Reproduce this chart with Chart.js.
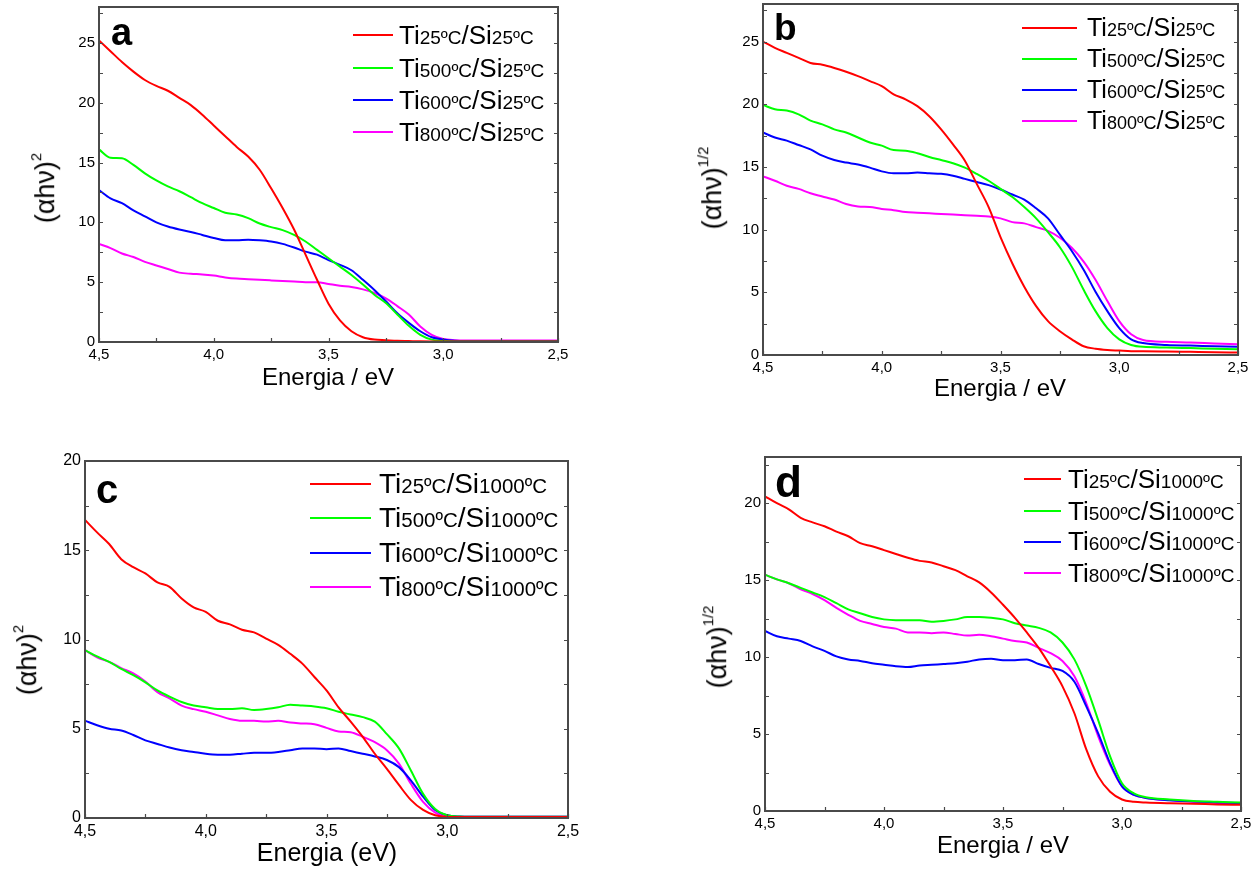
<!DOCTYPE html>
<html>
<head>
<meta charset="utf-8">
<title>Tauc plots</title>
<script src="https://cdn.jsdelivr.net/npm/chart.js@4.4.1/dist/chart.umd.min.js"></script>
<style>
  html, body { margin: 0; padding: 0; background: #fff; }
  body { width: 1257px; height: 869px; position: relative; overflow: hidden;
         font-family: "Liberation Sans", Arial, sans-serif; color: #000; }
  canvas { position: absolute; }
  .lbl { position: absolute; line-height: 1; white-space: nowrap; }
  .letter { font-weight: bold; }
  .ytitle { position: absolute; white-space: nowrap; line-height: 1;
            transform: translate(-50%, -50%) rotate(-90deg); }
  .ytitle sup { font-size: 0.55em; vertical-align: 0.85em; }
  .xtitle { transform: translateX(-50%); }
  .leg-line { position: absolute; height: 2px; }
</style>
</head>
<body>
<script>
(function() {
    'use strict';

    const FONT = '"Liberation Sans", Arial, sans-serif';

    // photon energy (eV), shared by all four panels
    const energy = [4.5, 4.45, 4.4, 4.35, 4.3, 4.25, 4.2, 4.15, 4.1, 4.05,
                    4.0, 3.95, 3.9, 3.85, 3.8, 3.75, 3.7, 3.65, 3.6, 3.55,
                    3.5, 3.45, 3.4, 3.35, 3.3, 3.25, 3.2, 3.15, 3.1, 3.05,
                    3.0, 2.95, 2.9, 2.8, 2.7, 2.6, 2.5];
    const xTicks = [4.5, 4.0, 3.5, 3.0, 2.5];
    const tiTemps = ['25ºC', '500ºC', '600ºC', '800ºC'];
    const colors = ['#ff0000', '#00ff00', '#0000ff', '#ff00ff'];

    // a: (αhν)^2, Si 25ºC
    const aTi25 = [25.2, 24.3, 23.4, 22.6, 21.9, 21.4, 21.0, 20.4, 19.8, 19.0,
                   18.1, 17.2, 16.3, 15.5, 14.4, 12.85, 11.2, 9.4, 7.3, 5.2,
                   3.2, 1.8, 0.9, 0.4, 0.2, 0.15, 0.1, 0.08, 0.06, 0.05,
                   0.05, 0.05, 0.05, 0.05, 0.05, 0.05, 0.05];
    const aTi500 = [16.1, 15.4, 15.35, 14.8, 14.1, 13.5, 13.0, 12.6, 12.1, 11.6,
                    11.2, 10.8, 10.65, 10.35, 9.9, 9.6, 9.35, 8.95, 8.4, 7.7,
                    7.0, 6.3, 5.6, 4.8, 3.95, 3.25, 2.3, 1.35, 0.6, 0.2,
                    0.08, 0.05, 0.05, 0.05, 0.05, 0.05, 0.05];
    const aTi600 = [12.7, 12.0, 11.6, 11.0, 10.5, 10.0, 9.65, 9.4, 9.2, 8.95,
                    8.7, 8.5, 8.5, 8.55, 8.5, 8.4, 8.2, 7.9, 7.55, 7.3,
                    6.85, 6.45, 6.0, 5.2, 4.35, 3.4, 2.4, 1.6, 0.9, 0.4,
                    0.2, 0.1, 0.08, 0.08, 0.08, 0.08, 0.08];
    const aTi800 = [8.2, 7.85, 7.4, 7.1, 6.7, 6.4, 6.1, 5.8, 5.7, 5.65,
                    5.55, 5.4, 5.3, 5.25, 5.2, 5.15, 5.1, 5.05, 5.0, 5.0,
                    4.85, 4.7, 4.6, 4.4, 4.1, 3.65, 3.0, 2.3, 1.3, 0.6,
                    0.25, 0.15, 0.12, 0.12, 0.12, 0.12, 0.12];

    // b: (αhν)^1/2, Si 25ºC
    const bTi25 = [25.0, 24.5, 24.1, 23.7, 23.3, 23.15, 22.9, 22.6, 22.25, 21.85,
                   21.45, 20.8, 20.4, 19.85, 19.05, 18.0, 16.8, 15.5, 13.65, 11.8,
                   9.4, 7.3, 5.45, 3.9, 2.7, 1.9, 1.25, 0.7, 0.5, 0.4,
                   0.35, 0.3, 0.3, 0.28, 0.25, 0.22, 0.2];
    const bTi500 = [19.95, 19.6, 19.5, 19.2, 18.7, 18.4, 18.0, 17.75, 17.35, 16.95,
                    16.7, 16.35, 16.3, 16.1, 15.8, 15.55, 15.3, 14.95, 14.45, 13.9,
                    13.25, 12.6, 11.8, 10.9, 9.8, 8.6, 7.05, 5.2, 3.5, 2.15,
                    1.25, 0.8, 0.65, 0.6, 0.55, 0.5, 0.45];
    const bTi600 = [17.75, 17.35, 17.1, 16.75, 16.4, 15.9, 15.55, 15.35, 15.2, 14.95,
                    14.65, 14.5, 14.5, 14.55, 14.5, 14.45, 14.3, 14.05, 13.8, 13.55,
                    13.2, 12.8, 12.4, 11.7, 10.9, 9.6, 8.3, 6.8, 5.05, 3.5,
                    2.15, 1.25, 0.95, 0.8, 0.75, 0.7, 0.65];
    const bTi800 = [14.25, 13.9, 13.5, 13.25, 12.9, 12.65, 12.4, 12.05, 11.85, 11.8,
                    11.65, 11.55, 11.4, 11.35, 11.3, 11.25, 11.2, 11.15, 11.1, 11.05,
                    10.9, 10.6, 10.5, 10.2, 9.9, 9.35, 8.55, 7.45, 6.0, 4.3,
                    2.7, 1.65, 1.2, 1.05, 1.0, 0.92, 0.85];

    // c: (αhν)^2, Si 1000ºC
    const cTi25 = [16.7, 16.0, 15.35, 14.5, 14.05, 13.7, 13.2, 12.95, 12.3, 11.8,
                   11.55, 11.05, 10.85, 10.55, 10.4, 10.05, 9.7, 9.2, 8.65, 7.9,
                   7.15, 6.2, 5.4, 4.55, 3.6, 2.75, 1.85, 1.0, 0.45, 0.15,
                   0.06, 0.05, 0.05, 0.05, 0.05, 0.05, 0.05];
    const cTi500 = [9.4, 9.05, 8.75, 8.35, 8.0, 7.6, 7.15, 6.8, 6.5, 6.3,
                    6.2, 6.1, 6.1, 6.15, 6.05, 6.1, 6.2, 6.35, 6.3, 6.25,
                    6.15, 5.95, 5.8, 5.65, 5.4, 4.7, 3.9, 2.65, 1.35, 0.5,
                    0.15, 0.08, 0.07, 0.07, 0.07, 0.07, 0.07];
    const cTi600 = [5.45, 5.2, 5.0, 4.9, 4.65, 4.35, 4.15, 3.95, 3.8, 3.7,
                    3.6, 3.55, 3.55, 3.6, 3.65, 3.65, 3.7, 3.8, 3.9, 3.9,
                    3.85, 3.9, 3.75, 3.6, 3.45, 3.25, 2.85, 2.1, 1.2, 0.45,
                    0.15, 0.08, 0.07, 0.07, 0.07, 0.07, 0.07];
    const cTi800 = [9.4, 9.0, 8.75, 8.4, 8.1, 7.65, 7.05, 6.7, 6.3, 6.1,
                    5.95, 5.75, 5.55, 5.45, 5.45, 5.4, 5.45, 5.35, 5.3, 5.25,
                    5.05, 4.85, 4.8, 4.55, 4.25, 3.8, 3.05, 1.9, 0.9, 0.3,
                    0.1, 0.07, 0.07, 0.07, 0.07, 0.07, 0.07];

    // d: (αhν)^1/2, Si 1000ºC
    const dTi25 = [20.45, 20.0, 19.6, 19.05, 18.75, 18.5, 18.15, 17.85, 17.4, 17.2,
                   16.95, 16.7, 16.45, 16.25, 16.15, 15.9, 15.65, 15.25, 14.85, 14.2,
                   13.4, 12.55, 11.6, 10.6, 9.4, 8.1, 6.35, 4.0, 2.25, 1.25,
                   0.75, 0.6, 0.55, 0.5, 0.47, 0.43, 0.4];
    const dTi500 = [15.35, 15.05, 14.8, 14.5, 14.2, 13.9, 13.5, 13.1, 12.85, 12.6,
                    12.45, 12.4, 12.4, 12.4, 12.3, 12.35, 12.45, 12.6, 12.6, 12.55,
                    12.45, 12.2, 12.05, 11.9, 11.6, 10.95, 9.85, 8.1, 5.9, 3.55,
                    1.8, 1.15, 0.9, 0.75, 0.65, 0.6, 0.55];
    const dTi600 = [11.7, 11.35, 11.2, 11.05, 10.7, 10.4, 10.05, 9.85, 9.75, 9.6,
                    9.5, 9.4, 9.35, 9.45, 9.5, 9.55, 9.6, 9.7, 9.85, 9.9,
                    9.8, 9.8, 9.85, 9.55, 9.3, 9.1, 8.4, 6.8, 5.05, 3.1,
                    1.6, 1.05, 0.85, 0.7, 0.62, 0.56, 0.5];
    const dTi800 = [15.35, 15.05, 14.8, 14.4, 14.1, 13.7, 13.2, 12.75, 12.35, 12.15,
                    11.95, 11.85, 11.6, 11.6, 11.55, 11.6, 11.5, 11.4, 11.45, 11.35,
                    11.2, 11.05, 10.95, 10.6, 10.25, 9.75, 8.75, 7.0, 4.85, 3.0,
                    1.6, 1.05, 0.85, 0.7, 0.6, 0.52, 0.45];

    // layout of each panel: plot box, legend, titles
    const panels = [
        { letter: 'a', si: '25ºC', series: [aTi25, aTi500, aTi600, aTi800], yMax: 28, sup: '2',
          box: { l: 99, r: 558, t: 7, b: 342 }, tickSize: 15,
          letterPos: { x: 111, base: 45, size: 38 },
          leg: { x1: 353, x2: 393, tx: 399, rows: [35, 68, 100, 132], big: 26, small: 19 },
          yTitle: { x: 44, y: 188 }, xTitle: { text: 'Energia / eV', x: 328, base: 385, size: 24 } },
        { letter: 'b', si: '25ºC', series: [bTi25, bTi500, bTi600, bTi800], yMax: 28, sup: '1/2',
          box: { l: 763, r: 1238, t: 4, b: 355 }, tickSize: 15,
          letterPos: { x: 774, base: 40, size: 37 },
          leg: { x1: 1022, x2: 1077, tx: 1087, rows: [28, 59, 90, 121], big: 25, small: 18 },
          yTitle: { x: 711, y: 188 }, xTitle: { text: 'Energia / eV', x: 1000, base: 396, size: 24 } },
        { letter: 'c', si: '1000ºC', series: [cTi25, cTi500, cTi600, cTi800], yMax: 20, sup: '2',
          box: { l: 85, r: 568, t: 461, b: 818 }, tickSize: 16,
          letterPos: { x: 96, base: 503, size: 40 },
          leg: { x1: 310, x2: 371, tx: 379, rows: [484, 518, 553, 587], big: 28, small: 20.5 },
          yTitle: { x: 26, y: 660 }, xTitle: { text: 'Energia (eV)', x: 327, base: 861, size: 25 } },
        { letter: 'd', si: '1000ºC', series: [dTi25, dTi500, dTi600, dTi800], yMax: 23, sup: '1/2',
          box: { l: 765, r: 1241, t: 457, b: 811 }, tickSize: 15,
          letterPos: { x: 775, base: 497, size: 44 },
          leg: { x1: 1024, x2: 1061, tx: 1068, rows: [479, 511, 541.5, 573], big: 26, small: 19 },
          yTitle: { x: 716, y: 647 }, xTitle: { text: 'Energia / eV', x: 1003, base: 853, size: 24 } }
    ];

    const Y_AXIS_W = 60, X_AXIS_H = 34, PAD_TOP = 14, PAD_RIGHT = 20;
    const BASE = 0.8465; // baseline offset of Liberation Sans at line-height 1

    // frame round the plot plus small inward ticks
    const frameTicks = {
        id: 'frameTicks',
        afterDatasetsDraw(chart) {
            const { ctx, chartArea: a, scales: { x, y } } = chart;
            ctx.save();
            ctx.strokeStyle = '#4a4a4a';
            ctx.lineWidth = 1.2;
            ctx.beginPath();
            for (let v = 0; v <= y.max + 1e-9; v += 2.5) {
                const py = Math.round(y.getPixelForValue(v)) + 0.5;
                ctx.moveTo(a.left, py); ctx.lineTo(a.left + 4, py);
                ctx.moveTo(a.right, py); ctx.lineTo(a.right - 4, py);
            }
            for (let v = x.min; v <= x.max + 1e-9; v += 0.25) {
                const px = Math.round(x.getPixelForValue(v)) + 0.5;
                ctx.moveTo(px, a.bottom); ctx.lineTo(px, a.bottom - 4);
            }
            ctx.stroke();
            ctx.lineWidth = 2;
            ctx.strokeRect(a.left, a.top, a.right - a.left, a.bottom - a.top);
            ctx.restore();
        }
    };

    function addText(html, cls, style) {
        const el = document.createElement('div');
        el.className = cls;
        el.innerHTML = html;
        Object.assign(el.style, style);
        document.body.appendChild(el);
        return el;
    }

    function buildLegend(chart, p) {
        const g = p.leg;
        chart.data.datasets.forEach((ds, i) => {
            const y = g.rows[i];
            const line = document.createElement('div');
            line.className = 'leg-line';
            Object.assign(line.style, {
                left: g.x1 + 'px', top: (y - 1) + 'px', width: (g.x2 - g.x1) + 'px', background: ds.borderColor
            });
            document.body.appendChild(line);
            const [ti, si] = ds.label.split('/Si');
            const small = `<span style="font-size:${g.small}px">`;
            const base = y + 0.33 * g.big;
            addText(`Ti${small}${ti.slice(2)}</span>/Si${small}${si}</span>`, 'lbl', {
                left: g.tx + 'px', top: (base - BASE * g.big) + 'px', fontSize: g.big + 'px'
            });
        });
    }

    panels.forEach(p => {
        const bx = p.box;
        const canvas = document.createElement('canvas');
        const w = bx.r - bx.l + Y_AXIS_W + PAD_RIGHT;
        const h = bx.b - bx.t + PAD_TOP + X_AXIS_H;
        canvas.width = w; canvas.height = h;
        canvas.style.left = (bx.l - Y_AXIS_W) + 'px';
        canvas.style.top = (bx.t - PAD_TOP) + 'px';
        canvas.style.width = w + 'px'; canvas.style.height = h + 'px';
        document.body.appendChild(canvas);

        const tickFont = { family: FONT, size: p.tickSize };
        const chart = new Chart(canvas.getContext('2d'), {
            type: 'line',
            data: {
                datasets: p.series.map((vals, i) => ({
                    label: 'Ti' + tiTemps[i] + '/Si' + p.si,
                    data: energy.map((e, k) => ({ x: e, y: vals[k] })),
                    borderColor: colors[i],
                    borderWidth: 2,
                    pointRadius: 0,
                    fill: false,
                    cubicInterpolationMode: 'monotone'
                }))
            },
            options: {
                responsive: false,
                animation: false,
                devicePixelRatio: 1,
                layout: { padding: { top: PAD_TOP, right: PAD_RIGHT, left: 0, bottom: 0 } },
                plugins: { legend: { display: false }, tooltip: { enabled: false } },
                scales: {
                    x: {
                        type: 'linear', reverse: true, min: 2.5, max: 4.5,
                        grid: { display: false, drawTicks: false }, border: { display: false },
                        afterBuildTicks: s => { s.ticks = xTicks.map(v => ({ value: v })); },
                        ticks: {
                            autoSkip: false, maxRotation: 0, padding: 4, color: '#000', font: tickFont,
                            callback: v => v.toFixed(1).replace('.', ',')
                        },
                        afterFit: s => { s.height = X_AXIS_H; }
                    },
                    y: {
                        min: 0, max: p.yMax,
                        grid: { display: false, drawTicks: false }, border: { display: false },
                        afterBuildTicks: s => { s.ticks = s.ticks.filter(t => t.value % 5 === 0); },
                        ticks: { stepSize: 5, padding: 4, color: '#000', font: tickFont },
                        afterFit: s => { s.width = Y_AXIS_W; }
                    }
                }
            },
            plugins: [frameTicks]
        });

        buildLegend(chart, p);

        const lp = p.letterPos;
        addText(p.letter, 'lbl letter', {
            left: lp.x + 'px', top: (lp.base - BASE * lp.size) + 'px', fontSize: lp.size + 'px'
        });

        addText(`(αhν)<sup>${p.sup}</sup>`, 'ytitle', {
            left: p.yTitle.x + 'px', top: p.yTitle.y + 'px', fontSize: '27px'
        });

        const xt = p.xTitle;
        addText(xt.text, 'lbl xtitle', {
            left: xt.x + 'px', top: (xt.base - BASE * xt.size) + 'px', fontSize: xt.size + 'px'
        });
    });
})();
</script>
</body>
</html>
